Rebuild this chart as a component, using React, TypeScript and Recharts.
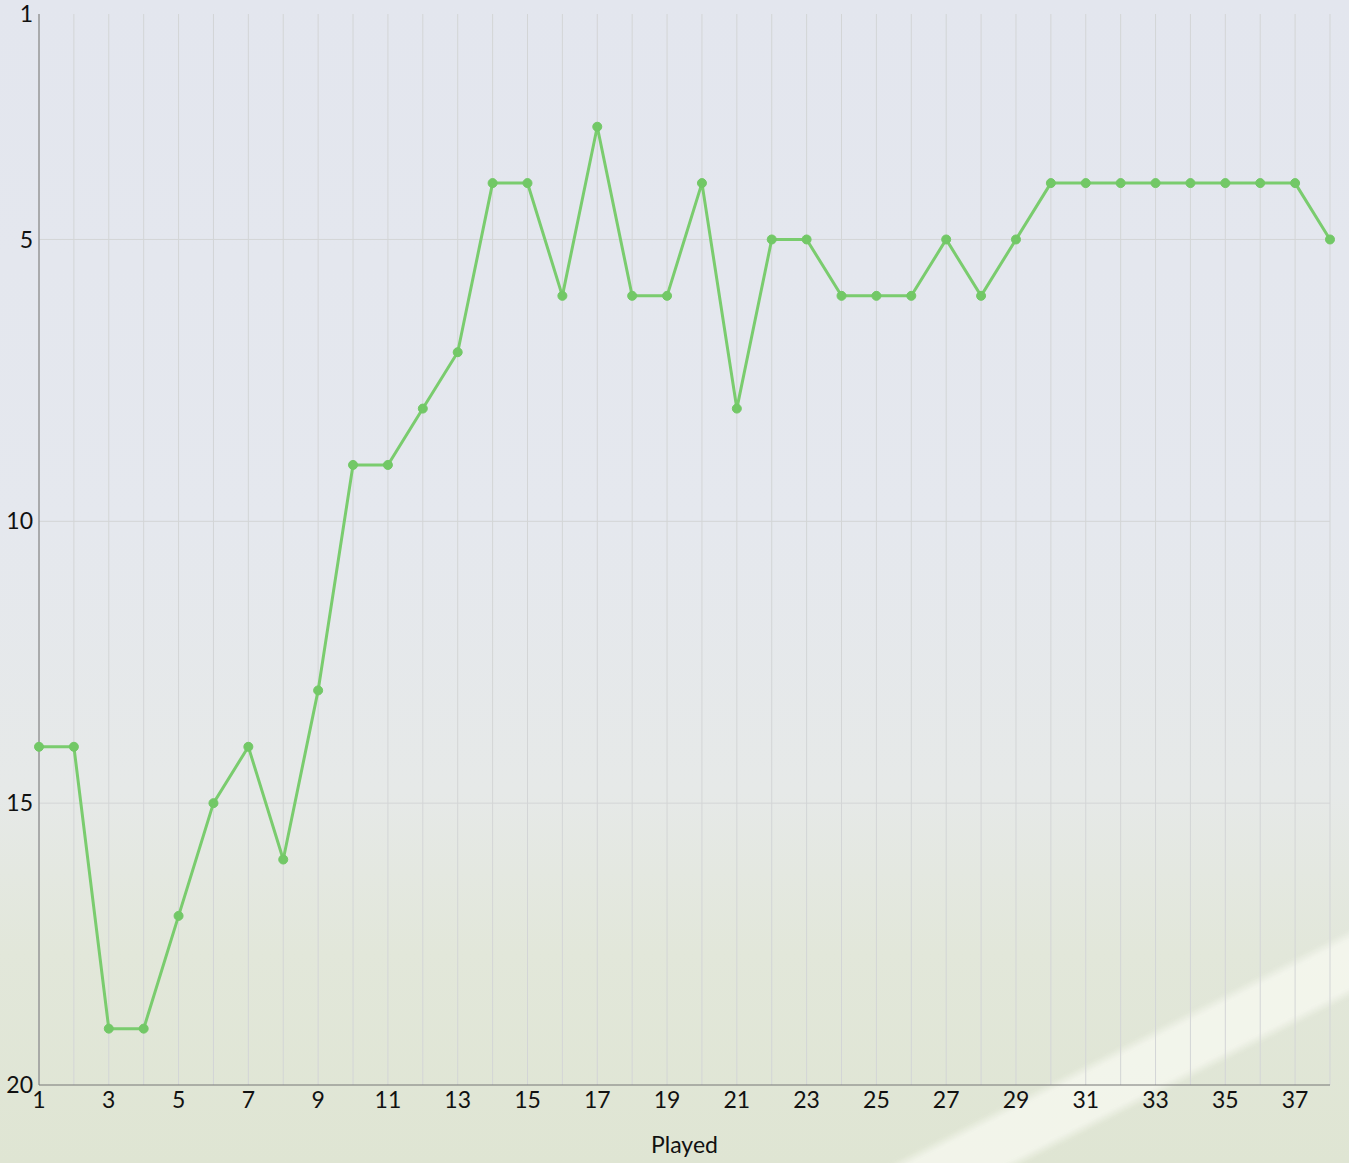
import { LineChart, Line, XAxis, YAxis, CartesianGrid } from "recharts";

const played = Array.from({ length: 38 }, (_, i) => i + 1);
const positions = [
  14, 14, 19, 19, 17, 15, 14, 16, 13, 9, 9, 8, 7, 4, 4, 6, 3, 6, 6, 4, 8, 5, 5, 6, 6, 6, 5, 6, 5, 4, 4, 4, 4, 4,
  4, 4, 4, 5,
];
const yTicks = [1, 5, 10, 15, 20];

const data = played.map((p, i) => ({ played: p, position: positions[i] }));

const App = () => {
  return (
    <div
      style={{
        position: "absolute",
        left: 0,
        top: 0,
        width: 1349,
        height: 1163,
        overflow: "hidden",
        fontFamily: "Lato, 'Open Sans', sans-serif",
        background:
          "linear-gradient(180deg, #e3e6ee 0%, #e5e8ee 45%, #e6e9e8 68%, #e2e7da 82%, #dfe5d3 100%)",
      }}
    >
      {/* pitch marking */}
      <div
        style={{
          position: "absolute",
          left: 1180 - 450,
          top: 1050 - 26,
          width: 900,
          height: 52,
          background: "rgba(248,250,242,0.75)",
          filter: "blur(3px)",
          transform: "rotate(-27deg)",
        }}
      />
      <LineChart
        width={1349}
        height={1163}
        data={data}
        margin={{ top: 14, right: 19, left: 0, bottom: 0 }}
        style={{ position: "absolute", left: 0, top: 0 }}
      >
        <CartesianGrid stroke="#d3d5d6" horizontalValues={[5, 10, 15]} />
        <XAxis
          dataKey="played"
          type="number"
          domain={[1, 38]}
          ticks={played}
          interval={0}
          tickFormatter={(v: number) => (v % 2 === 1 ? String(v) : "")}
          tickLine={false}
          axisLine={{ stroke: "#777" }}
          tick={{ fill: "#111", fontSize: 23 }}
          tickMargin={1}
          height={78}
          label={{ value: "Played", position: "insideBottom", offset: 10, fill: "#111", fontSize: 23 }}
        />
        <YAxis
          type="number"
          reversed
          domain={[1, 20]}
          ticks={yTicks}
          interval={0}
          width={39}
          tickLine={false}
          axisLine={{ stroke: "#777" }}
          tick={{ fill: "#111", fontSize: 23 }}
          tickMargin={0}
        />
        <Line
          type="linear"
          dataKey="position"
          stroke="#7acc6e"
          strokeWidth={3}
          dot={{ r: 4.5, fill: "#72c866", stroke: "#72c866", strokeWidth: 1 }}
          isAnimationActive={false}
        />
      </LineChart>
    </div>
  );
};

export default App;
